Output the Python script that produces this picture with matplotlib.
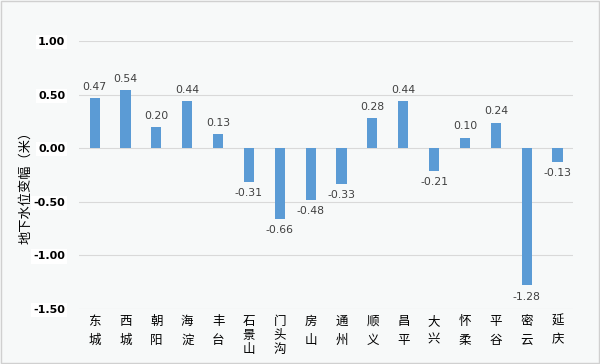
import matplotlib.pyplot as plt
import matplotlib.ticker as ticker

plt.rcParams['font.family'] = ['Noto Sans CJK SC', 'DejaVu Sans']
plt.rcParams['axes.unicode_minus'] = False

districts = ["东城", "西城", "朝阳", "海淀", "丰台", "石景山", "门头沟", "房山",
             "通州", "顺义", "昌平", "大兴", "怀柔", "平谷", "密云", "延庆"]
changes = [0.47, 0.54, 0.20, 0.44, 0.13, -0.31, -0.66, -0.48,
           -0.33, 0.28, 0.44, -0.21, 0.10, 0.24, -1.28, -0.13]
y_ticks = [1.0, 0.5, 0.0, -0.5, -1.0, -1.5]

bg = "#f7f9f9"
fig = plt.figure(figsize=(6, 3.64), dpi=100, facecolor=bg)
ax = fig.add_axes([0.132, 0.151, 0.823, 0.736], facecolor=bg)

# figure border
fig.patches.append(plt.Rectangle((0.002, 0.003), 0.996, 0.994, transform=fig.transFigure,
                                 fill=False, edgecolor="#d0d0d0", linewidth=1))

x = range(len(districts))
bars = ax.bar(x, changes, width=0.33, color="#5b9bd5", zorder=3)

for bar, v in zip(bars, changes):
    cx = bar.get_x() + bar.get_width() / 2
    if v >= 0:
        ax.annotate("{:.2f}".format(v), (cx, v), xytext=(0, 4.5), textcoords="offset points",
                    ha="center", va="bottom", fontsize=7.8, color="#404040", family="DejaVu Sans")
    else:
        ax.annotate("{:.2f}".format(v), (cx, v), xytext=(0, -4.5), textcoords="offset points",
                    ha="center", va="top", fontsize=7.8, color="#404040", family="DejaVu Sans")

ax.set_ylim(-1.5, 1.0)
ax.set_xlim(-0.5, len(districts) - 0.5)
ax.set_yticks(y_ticks)
ax.yaxis.set_major_formatter(ticker.StrMethodFormatter("{x:.2f}"))
for lbl in ax.get_yticklabels():
    lbl.set_fontweight("bold")
    lbl.set_fontsize(8)
    lbl.set_family("DejaVu Sans")
    lbl.set_bbox(dict(facecolor="white", edgecolor="none", pad=1.5))
ax.tick_params(axis="y", length=0, pad=10, colors="#000000")

ax.set_xticks(list(x))
ax.set_xticklabels(["\n".join(d) for d in districts], fontsize=9, va="top")
for lbl, d in zip(ax.get_xticklabels(), districts):
    lbl.set_linespacing(1.1 if len(d) > 2 else 1.6)
ax.tick_params(axis="x", length=0, pad=4)

ax.grid(axis="y", color="#d9d9d9", linewidth=0.8, zorder=0)
for s in ax.spines.values():
    s.set_visible(False)

ax.set_ylabel("地下水位变幅（米）", fontsize=9.5)
ax.yaxis.set_label_coords(-0.095, 0.466)

fig.savefig("out.png", dpi=100, facecolor=bg)
